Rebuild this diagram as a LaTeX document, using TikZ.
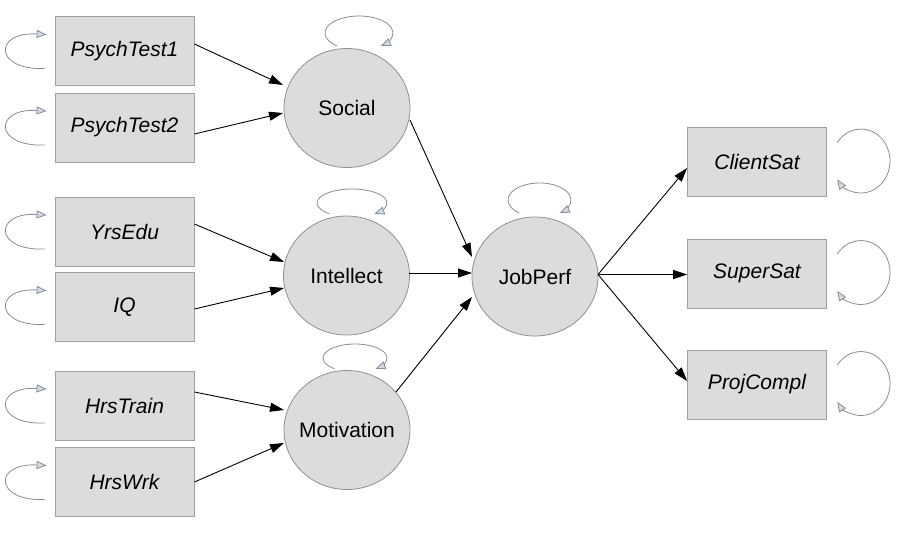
\documentclass[tikz,border=0pt]{standalone}
\usepackage{fontspec}
\setmainfont{Liberation Sans}
\usetikzlibrary{arrows.meta,calc,shapes.geometric}
\definecolor{boxfill}{HTML}{DCDCDC}
\definecolor{boxline}{HTML}{A0A0A0}
\definecolor{circline}{HTML}{909090}
\definecolor{loopline}{HTML}{8C8C8C}
\definecolor{loopfill}{HTML}{CCDCEA}
\begin{document}
\begin{tikzpicture}[x=1pt,y=-1pt,
  obs/.style={draw=boxline, fill=boxfill, line width=0.8pt, minimum width=139pt, minimum height=69pt, inner sep=0pt, font=\fontsize{21}{25}\selectfont\itshape},
  lat/.style={ellipse, draw=circline, fill=boxfill, line width=0.8pt, minimum width=126pt, minimum height=119pt, inner xsep=-20pt, inner ysep=0pt, font=\fontsize{21}{25}\selectfont},
  conn/.style={draw=black, line width=0.9pt, -{Triangle[length=14pt,width=9pt]}},
  selfarc/.style={draw=loopline, line width=0.8pt, -{Triangle[length=10pt,width=8pt,fill=loopfill]}}]
\useasboundingbox (0,0) rectangle (908,533);
% observed (left)
\node[obs] (P1) at (124.5,51) {PsychTest1};
\node[obs] (P2) at (124.5,127.5) {PsychTest2};
\node[obs] (YE) at (124.5,231.5) {YrsEdu};
\node[obs] (IQ) at (124.5,307) {IQ};
\node[obs] (HT) at (124.5,405.5) {HrsTrain};
\node[obs] (HW) at (124.5,482) {HrsWrk};
% latent
\node[lat] (So) at (347,108) {Social};
\node[lat] (In) at (346.5,275.5) {Intellect};
\node[lat] (Mo) at (347,430) {Motivation};
\node[lat] (JP) at (535,276.5) {JobPerf};
% observed (right)
\node[obs] (CS) at (757,162) {ClientSat};
\node[obs] (SS) at (757,273.5) {SuperSat};
\node[obs] (PC) at (757,384.5) {ProjCompl};
% connectors
\draw[conn] ($(P1.east)+(0,-7)$) -- ($(So)+(-64,-23)$);
\draw[conn] ($(P2.east)+(0,6.5)$) -- ($(So)+(-64,5)$);
\draw[conn] ($(YE.east)+(0,-7.5)$) -- ($(In)+(-62.5,-13.5)$);
\draw[conn] ($(IQ.east)+(0,2)$) -- ($(In)+(-62.5,12.5)$);
\draw[conn] ($(HT.east)+(0,-13.5)$) -- ($(Mo)+(-63,-20)$);
\draw[conn] (HW.east) -- ($(Mo)+(-63,13)$);
\draw[conn] ($(So)+(63,12)$) -- ($(JP)+(-63,-19.5)$);
\draw[conn] ($(In)+(62.5,-2.5)$) -- ($(JP)+(-63,-3.5)$);
\draw[conn] ($(Mo)+(49,-38)$) -- ($(JP)+(-63,20.5)$);
\draw[conn] ($(JP)+(63,-2)$) -- ($(CS.west)+(0,6)$);
\draw[conn] ($(JP)+(63,-2)$) -- ($(SS.west)+(0,1)$);
\draw[conn] ($(JP)+(63,-2)$) -- ($(PC.west)+(0,-3.5)$);
% self loops, left boxes
\foreach \b in {P1,P2,YE,IQ,HT,HW}{
  \draw[selfarc] ($(\b.west)+(-10,17.5)$) .. controls +(-51,2) and +(-53,-3) .. ($(\b.west)+(-8,-16.5)$);
}
% self loops, right boxes
\foreach \b in {CS,SS,PC}{
  \draw[selfarc] ($(\b)+(104,-1)+(215:29 and 32)$) arc[start angle=215,end angle=505,x radius=29,y radius=32];
}
% self loops, latent
\draw[selfarc] ($(So)+(12,-75)+(130:34 and 17)$) arc[start angle=130,end angle=410,x radius=34,y radius=17];
\draw[selfarc] ($(In)+(5.5,-72.5)+(130:35 and 14)$) arc[start angle=130,end angle=410,x radius=35,y radius=14];
\draw[selfarc] ($(Mo)+(8,-72)+(130:32 and 14)$) arc[start angle=130,end angle=410,x radius=32,y radius=14];
\draw[selfarc] ($(JP)+(4.5,-76.5)+(130:31.5 and 17)$) arc[start angle=130,end angle=410,x radius=31.5,y radius=17];
\end{tikzpicture}
\end{document}
